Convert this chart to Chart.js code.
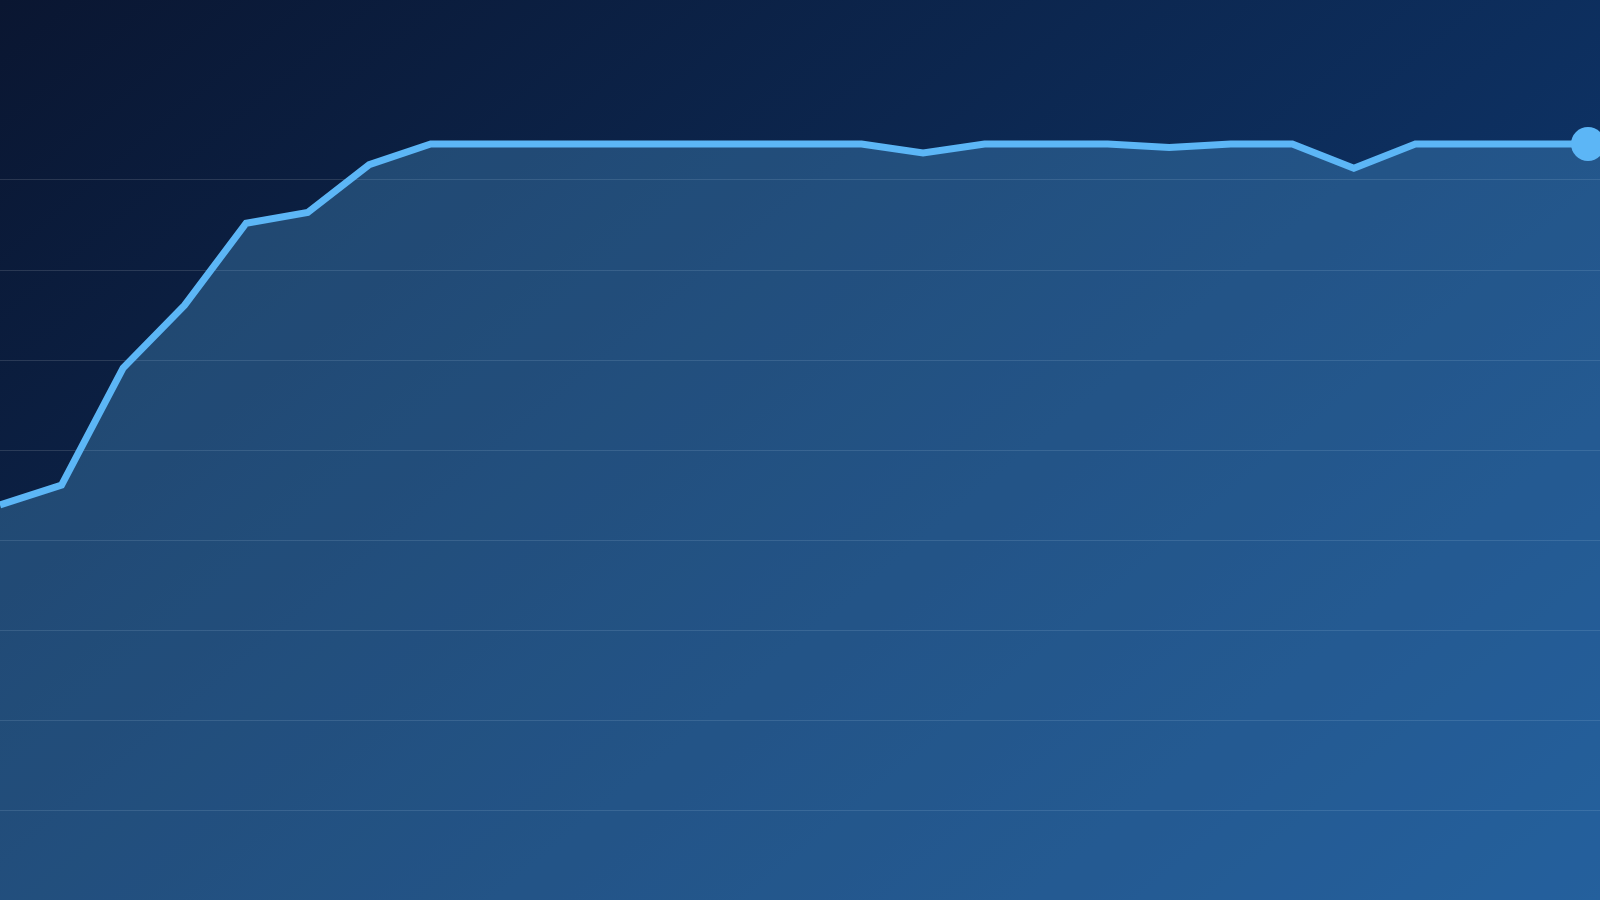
<!DOCTYPE html>
<html>
<head>
<meta charset="utf-8">
<script src="https://cdn.jsdelivr.net/npm/chart.js"></script>
<style>
  html, body {
    margin: 0;
    padding: 0;
    width: 100%;
    height: 100%;
    overflow: hidden;
  }
  body {
    background: linear-gradient(140deg, #0a1631 0%, #0f3f7c 100%);
  }
  .wrap {
    position: absolute;
    left: 0;
    top: 0;
    width: 1600px;
    height: 900px;
  }
</style>
</head>
<body>
<div class="wrap"><canvas id="loadChart"></canvas></div>
<script>
// sample labels (x axis is hidden in the picture)
const labels = ['1', '2', '3', '4', '5', '6', '7', '8', '9', '10', '11', '12', '13', '14',
                '15', '16', '17', '18', '19', '20', '21', '22', '23', '24', '25', '26', '27'];

// values, percent
const values = [43.9, 46.1, 59.1, 66.1, 75.2, 76.4, 81.7, 84, 84, 84, 84, 84, 84, 84,
                84, 83, 84, 84, 84, 83.6, 84, 84, 81.3, 84, 84, 84, 84];

const yMin = 0;
const yMax = 100;
const yStep = 10;

const lineColor = '#5cb6f6';

// big dot on the latest value
const liveDot = {
    id: 'liveDot',
    afterDatasetsDraw(chart) {
        const pts = chart.getDatasetMeta(0).data;
        const last = pts[pts.length - 1];
        const ctx = chart.ctx;
        ctx.save();
        ctx.fillStyle = lineColor;
        ctx.beginPath();
        ctx.arc(chart.chartArea.right - 12, last.y, 17, 0, Math.PI * 2);
        ctx.fill();
        ctx.restore();
    }
};

function initializeChart() {
    const ctx = document.getElementById('loadChart').getContext('2d');

    new Chart(ctx, {
        type: 'line',
        data: {
            labels: labels,
            datasets: [{
                data: values,
                borderColor: lineColor,
                backgroundColor: 'rgba(92, 182, 246, 0.28)',
                borderWidth: 7,
                borderJoinStyle: 'miter',
                pointRadius: 0,
                pointHoverRadius: 0,
                tension: 0,
                fill: 'origin'
            }]
        },
        options: {
            responsive: true,
            maintainAspectRatio: false,
            animation: false,
            layout: { padding: 0 },
            scales: {
                x: {
                    display: false
                },
                y: {
                    display: true,
                    min: yMin,
                    max: yMax,
                    border: { display: false },
                    ticks: { display: false, stepSize: yStep },
                    grid: {
                        drawTicks: false,
                        lineWidth: 1,
                        color: (c) => (c.tick && c.tick.value > 0 && c.tick.value <= 80)
                            ? 'rgba(255, 255, 255, 0.13)'
                            : 'rgba(0, 0, 0, 0)'
                    }
                }
            },
            plugins: {
                legend: { display: false },
                tooltip: { enabled: false },
                title: { display: false }
            }
        },
        plugins: [liveDot]
    });
}

document.addEventListener('DOMContentLoaded', function() {
    initializeChart();
});
</script>
</body>
</html>
